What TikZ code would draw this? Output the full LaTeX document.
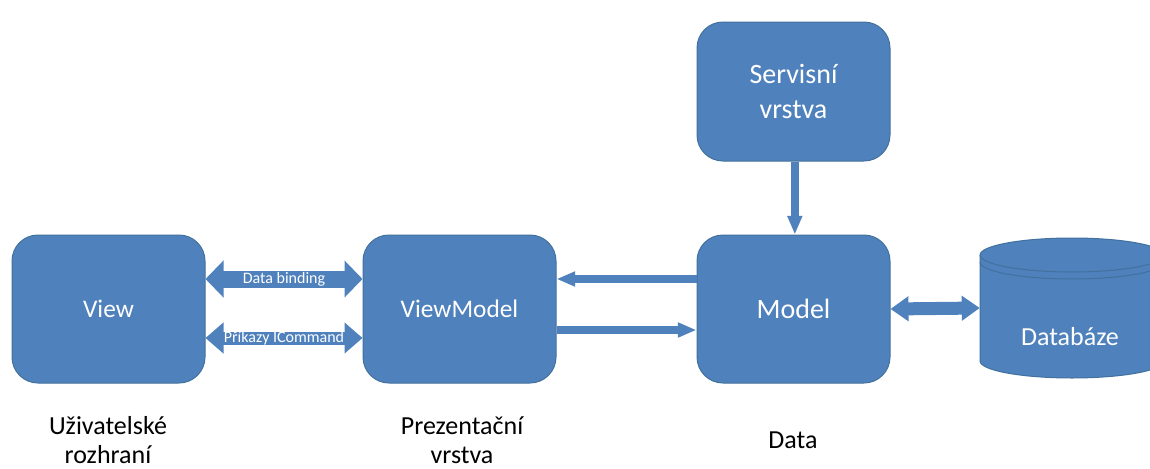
\documentclass[tikz,border=0pt]{standalone}
\usepackage{fontspec}
\setmainfont{Carlito}
\usetikzlibrary{arrows.meta}
\definecolor{boxblue}{HTML}{4F81BD}
\definecolor{edgeblue}{HTML}{41719C}
\tikzset{
  box/.style={draw=edgeblue, line width=0.75pt, fill=boxblue, rounded corners=19.5pt,
    minimum width=144.75pt, minimum height=111pt, text=white, align=center,
    font=\fontsize{19}{26}\selectfont, inner sep=0pt},
  lbl/.style={align=center, text=black, font=\fontsize{19.5}{21.75}\selectfont, inner sep=0pt},
  fatdbl/.style={draw=boxblue, line width=12.75pt,
    {Triangle[width=27pt,length=13.5pt]}-{Triangle[width=27pt,length=13.5pt]}},
  meddbl/.style={draw=boxblue, line width=9.75pt,
    {Triangle[width=22.5pt,length=13.5pt]}-{Triangle[width=22.5pt,length=13.5pt]}},
  dbdbl/.style={draw=boxblue, line width=9.75pt,
    {Triangle[width=18pt,length=13.5pt]}-{Triangle[width=18pt,length=13.5pt]}},
  thin/.style={draw=boxblue, line width=6pt, -{Triangle[width=10.5pt,length=14pt]}},
  arrlbl/.style={text=white, font=\fontsize{12}{13}\selectfont, inner sep=0pt}
}
\begin{document}
\begin{tikzpicture}[x=0.75pt,y=-0.75pt]
\clip (0,0) rectangle (1150,468);
\fill[white] (0,0) rectangle (1150,468);

% boxes
\node[box] (view) at (108.5,309) {View};
\node[box] (vm) at (459.5,309) {ViewModel};
\node[box, font=\fontsize{21}{26}\selectfont] (model) at (793.5,309) {Model};
\node[box, minimum height=104.25pt, font=\fontsize{21}{26}\selectfont] (serv) at (793.5,91.5) {Servisní\\vrstva};

% database
\node[minimum width=138pt, minimum height=105pt, inner sep=0pt] (db) at (1072,308) {};
\filldraw[fill=boxblue, draw=edgeblue, line width=0.75pt]
  (980,255) -- (980,361) arc[start angle=180, end angle=360, x radius=69pt, y radius=12.75pt]
  -- (1164,255) arc[start angle=0, end angle=180, x radius=69pt, y radius=12.75pt] -- cycle;
\draw[edgeblue, line width=0.75pt] (980,255) arc[start angle=180, end angle=360, x radius=69pt, y radius=12.75pt];
\draw[edgeblue, line width=0.75pt] (980,262) arc[start angle=180, end angle=360, x radius=69pt, y radius=12.75pt];
\node[text=white, font=\fontsize{19.5}{22}\selectfont, inner sep=0pt] (dbtext) at (1070,337) {Databáze};

% connectors
\draw[fatdbl] ([yshift=22.5pt]view.east) -- node[arrlbl] {Data binding} ([yshift=22.5pt]vm.west);
\draw[meddbl] ([yshift=-21.75pt]view.east) -- node[arrlbl] {Příkazy ICommand} ([yshift=-21.75pt]vm.west);
\draw[thin] ([yshift=22.5pt]model.west) -- ([yshift=22.5pt]vm.east);
\draw[thin] ([yshift=-15.75pt]vm.east) -- ([yshift=-15.75pt]model.west);
\draw[thin] ([xshift=1pt]serv.south) -- ([xshift=1pt]model.north);
\draw[dbdbl] (model.east) -- (db.west);

% labels
\node[lbl] (l1) at (108,440) {Uživatelské\\rozhraní};
\node[lbl] (l2) at (462,440) {Prezentační\\vrstva};
\node[lbl] (l3) at (793,440) {Data};
\end{tikzpicture}
\end{document}
